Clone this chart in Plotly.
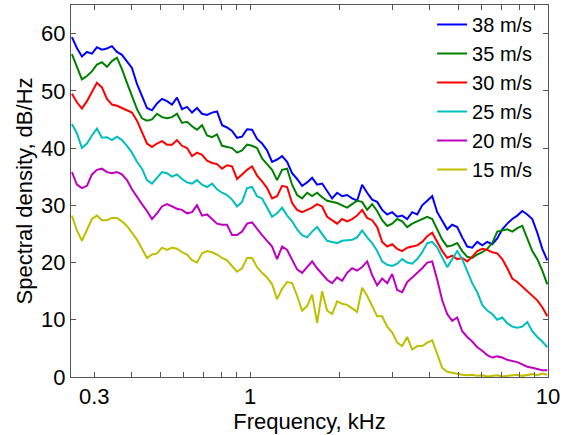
import plotly.graph_objects as go

# Frequency (kHz) sample points, read along the x axis
freq_khz = [0.2524, 0.2623, 0.2727, 0.2835, 0.2946, 0.3062, 0.3183, 0.3309, 0.3439, 0.3575,
            0.3715, 0.3862, 0.4014, 0.4173, 0.4337, 0.4508, 0.4686, 0.4871, 0.5063, 0.5263,
            0.5470, 0.5686, 0.5910, 0.6143, 0.6386, 0.6637, 0.6899, 0.7172, 0.7454, 0.7746,
            0.8053, 0.8370, 0.8700, 0.9044, 0.9400, 0.9770, 1.0156, 1.0556, 1.0972, 1.1405,
            1.1855, 1.2322, 1.2808, 1.3313, 1.3838, 1.4384, 1.4951, 1.5541, 1.6154, 1.6791,
            1.7453, 1.8141, 1.8854, 1.9598, 2.0370, 2.1174, 2.2009, 2.2877, 2.3779, 2.4717,
            2.5691, 2.6705, 2.7758, 2.8853, 2.9992, 3.1174, 3.2404, 3.3681, 3.5010, 3.6392,
            3.7827, 3.9319, 4.0870, 4.2481, 4.4157, 4.5889, 4.7699, 4.9580, 5.1535, 5.3568,
            5.5681, 5.7877, 6.0160, 6.2532, 6.4998, 6.7562, 7.0227, 7.2996, 7.5875, 7.8868,
            8.1978, 8.5211, 8.8572, 9.2065, 9.5697, 9.9448]

s38 = [59.4, 57.5, 56.0, 56.8, 56.5, 57.6, 57.2, 57.4, 57.8, 56.8,
       56.3, 55.2, 54.0, 51.2, 49.0, 47.0, 46.6, 47.8, 48.6, 48.2,
       47.6, 48.8, 46.8, 47.2, 46.2, 47.0, 46.0, 45.8, 46.2, 46.4,
       44.0, 43.6, 43.0, 41.8, 42.0, 43.3, 43.2, 41.6, 40.8, 39.6,
       37.6, 38.0, 38.6, 37.6, 35.6, 34.6, 33.4, 34.0, 34.8, 33.6,
       33.8, 32.6, 31.2, 32.2, 31.6, 31.8, 31.2, 30.8, 33.6, 32.2,
       31.0, 30.6, 29.2, 28.4, 28.8, 28.0, 28.2, 27.6, 28.8, 28.4,
       30.0, 30.8, 31.6, 28.8, 27.4, 25.8, 26.6, 26.2, 24.4, 22.8,
       22.6, 23.6, 23.0, 23.6, 23.2, 24.2, 25.8, 26.8, 27.6, 28.2,
       29.0, 28.4, 27.6, 25.2, 22.4, 20.4]

s35 = [56.4, 54.2, 52.0, 52.6, 53.4, 54.6, 55.0, 54.2, 55.2, 55.8,
       53.8, 51.4, 49.2, 46.8, 45.2, 44.8, 45.0, 46.0, 45.4, 45.2,
       45.4, 46.0, 44.4, 44.6, 43.8, 43.2, 44.0, 42.2, 41.9, 42.4,
       40.4, 40.2, 40.0, 39.2, 39.6, 40.6, 40.4, 40.0, 38.2, 37.2,
       36.2, 34.4, 36.2, 36.4, 33.6, 31.8, 31.2, 32.2, 31.6, 32.2,
       31.4, 30.8, 30.6, 30.4, 30.0, 29.6, 30.2, 30.8, 30.6, 29.2,
       30.2, 29.0, 27.4, 26.4, 26.8, 27.6, 27.2, 26.2, 26.8, 27.2,
       27.6, 28.0, 27.6, 25.8, 24.0, 22.8, 23.0, 23.4, 22.0, 21.0,
       20.8, 21.4, 21.8, 22.4, 23.4, 25.4, 25.6, 25.8, 25.4, 26.0,
       26.4, 24.2, 22.0, 20.6, 18.6, 16.2]

s30 = [49.5, 48.0, 46.9, 48.2, 49.8, 51.4, 50.6, 48.6, 47.6, 47.4,
       47.0, 46.6, 46.2, 44.8, 42.8, 40.8, 40.2, 40.8, 41.2, 40.6,
       40.6, 41.4, 40.4, 40.0, 38.6, 39.2, 38.8, 37.8, 37.4, 37.2,
       36.4, 37.0, 36.8, 34.6, 35.4, 36.2, 36.8, 35.2, 34.2, 33.0,
       31.2, 31.6, 33.4, 33.2, 30.4, 29.2, 28.8, 29.2, 29.6, 30.2,
       29.8, 28.0, 27.4, 26.8, 27.6, 27.2, 27.6, 28.2, 29.2, 27.8,
       27.4, 26.2, 23.6, 22.8, 23.2, 22.4, 22.0, 22.6, 22.8, 23.0,
       23.6, 24.6, 25.2, 23.6, 22.0, 20.8, 21.2, 20.6, 20.8, 20.2,
       21.0, 22.0, 22.4, 22.2, 21.8, 21.6, 20.6, 19.0, 17.2, 16.6,
       15.8, 15.0, 14.2, 13.4, 12.2, 10.6]

s25 = [44.2, 42.6, 40.0, 40.8, 42.2, 43.4, 41.8, 41.9, 41.4, 42.0,
       41.4, 40.4, 39.2, 37.6, 36.4, 34.4, 33.8, 34.8, 35.8, 35.6,
       35.0, 35.4, 34.6, 34.0, 33.8, 34.4, 33.6, 33.2, 33.8, 32.8,
       32.2, 31.8, 31.0, 29.8, 30.6, 33.0, 33.2, 31.6, 31.2, 29.6,
       28.0, 28.6, 29.6, 28.2, 27.2, 25.8, 24.8, 24.4, 25.4, 26.2,
       25.0, 23.8, 23.6, 23.4, 23.8, 23.9, 24.0, 24.4, 25.6, 24.4,
       23.4, 22.0, 20.2, 19.6, 19.4, 19.8, 20.6, 20.0, 19.8, 20.6,
       21.8, 23.4, 23.6, 22.6, 21.0, 19.2, 20.6, 22.0, 20.6, 18.4,
       16.4, 14.8, 12.6, 11.6, 11.0, 10.0, 10.4, 9.4, 8.8, 8.6,
       8.8, 9.6, 8.0, 7.0, 6.2, 5.2]

s20 = [35.8, 33.6, 33.0, 33.4, 35.4, 36.2, 36.4, 35.8, 35.6, 35.8,
       35.4, 34.4, 32.8, 31.4, 30.2, 29.0, 27.6, 28.6, 29.8, 30.2,
       29.8, 29.4, 29.2, 28.6, 28.8, 30.0, 28.2, 28.4, 27.6, 26.8,
       26.6, 26.6, 24.8, 24.8, 25.4, 26.8, 27.0, 25.8, 24.8, 23.8,
       22.8, 20.6, 22.8, 22.2, 20.6, 18.8, 18.2, 19.2, 20.2, 19.0,
       18.0, 17.0, 16.4, 17.4, 16.8, 18.2, 19.0, 18.6, 19.2, 20.2,
       17.8, 16.0, 17.2, 16.4, 18.0, 15.2, 14.8, 16.6, 17.4, 18.2,
       19.0, 20.0, 20.2, 17.0, 13.4, 11.0, 9.8, 10.4, 8.0, 7.0,
       6.2, 5.2, 4.6, 3.8, 3.4, 3.6, 3.4, 3.0, 2.8, 2.6,
       2.2, 1.8, 1.6, 1.4, 1.2, 1.2]

s15 = [28.2, 25.6, 23.8, 25.8, 27.6, 28.2, 27.4, 27.4, 27.8, 27.8,
       27.2, 26.4, 25.2, 24.0, 22.4, 20.8, 21.4, 21.6, 22.6, 22.2,
       22.6, 22.4, 21.8, 21.4, 20.4, 20.0, 21.6, 22.0, 21.8, 21.4,
       20.8, 20.4, 19.4, 18.4, 19.0, 20.8, 20.8, 19.2, 18.2, 17.4,
       16.2, 13.6, 15.4, 16.6, 16.4, 14.2, 11.6, 12.4, 14.4, 9.4,
       15.0, 11.6, 11.0, 13.2, 12.8, 12.6, 12.0, 11.4, 15.6, 14.2,
       12.4, 10.6, 10.6, 8.8, 7.8, 6.0, 5.4, 7.0, 4.8, 5.4,
       5.4, 6.0, 6.4, 3.8, 1.6, 0.9, 0.7, 0.6, 0.4, 0.3,
       0.4, 0.2, 0.3, 0.1, 0.2, 0.3, 0.1, 0.2, 0.3, 0.4,
       0.2, 0.3, 0.5, 0.3, 0.6, 0.4]

series_names = ["38 m/s", "35 m/s", "30 m/s", "25 m/s", "20 m/s", "15 m/s"]
series_values = [s38, s35, s30, s25, s20, s15]
series_colors = ["#0000FF", "#008000", "#FF0000", "#00BFBF", "#BF00BF", "#BFBF00"]

x_tickvals = [0.3, 0.4, 0.5, 0.6, 0.7, 0.8, 0.9, 1, 2, 3, 4, 5, 6, 7, 8, 9, 10]
x_ticktext = ["0.3", "", "", "", "", "", "", "1", "", "", "", "", "", "", "", "", "10"]
y_tickvals = [0, 10, 20, 30, 40, 50, 60]

fig = go.Figure()
for name, vals, col in zip(series_names, series_values, series_colors):
    fig.add_trace(go.Scatter(x=freq_khz, y=vals, mode="lines", name=name,
                             line=dict(color=col, width=2)))

font_family = "Liberation Sans, Arial, sans-serif"
FS = 22
axis_common = dict(showgrid=False, zeroline=False, showline=True, linecolor="#555555",
                   linewidth=1, mirror="ticks", ticks="inside", ticklen=5,
                   tickcolor="#555555", tickfont=dict(size=FS, color="black", family=font_family))

fig.update_xaxes(type="log", range=[-0.601, 1.0], tickvals=x_tickvals, ticktext=x_ticktext,
                 title=dict(text="Frequency, kHz", font=dict(size=FS, color="black", family=font_family),
                            standoff=2),
                 **axis_common)
fig.update_yaxes(range=[0, 65], tickvals=y_tickvals,
                 title=dict(text="Spectral density, dB/Hz", font=dict(size=FS, color="black", family=font_family),
                            standoff=2),
                 **axis_common)

fig.update_layout(
    width=580, height=435,
    margin=dict(l=71, r=32, t=5, b=58),
    paper_bgcolor="white", plot_bgcolor="white",
    font=dict(family=font_family, size=FS, color="black"),
    showlegend=True,
    legend=dict(x=0.757, y=1.0, xanchor="left", yanchor="top",
                bgcolor="rgba(255,255,255,0)", borderwidth=0,
                font=dict(size=20, color="black", family=font_family),
                itemwidth=30, tracegroupgap=0),
)

fig.write_html("out.html")
